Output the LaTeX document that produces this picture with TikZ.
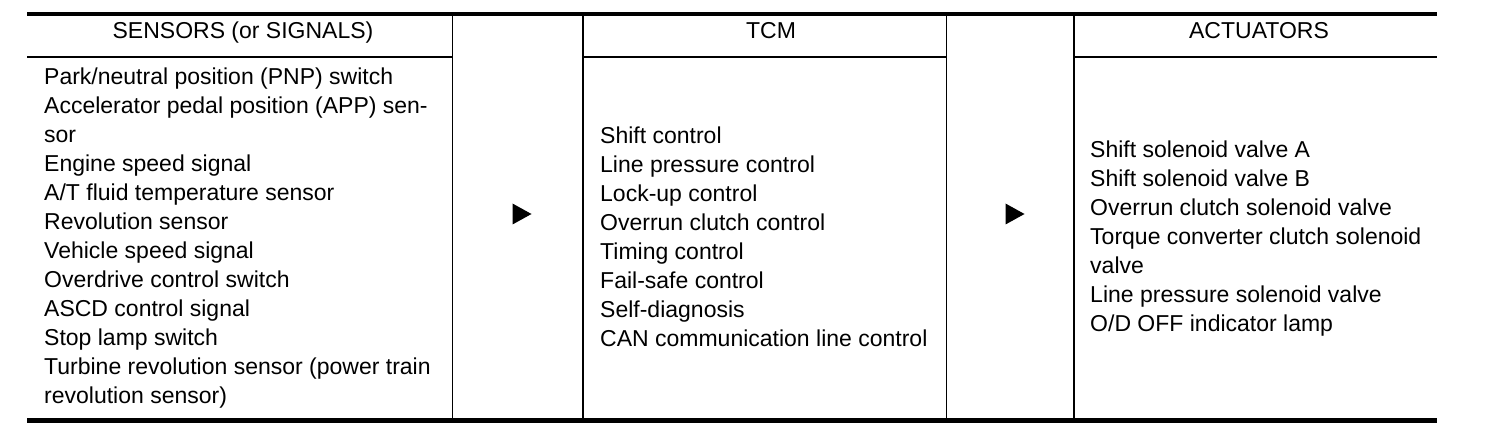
\documentclass[tikz,border=0pt]{standalone}
\usepackage{fontspec}
\setmainfont{Liberation Sans}
\usetikzlibrary{positioning}
\begin{document}
\begin{tikzpicture}[x=1pt,y=-1pt,
    cell/.style={anchor=base west,align=left,inner sep=0pt,font=\fontsize{23}{29}\selectfont},
    head/.style={anchor=base,inner sep=0pt,font=\fontsize{23}{29}\selectfont},
    marker/.style={fill=black}]
        \useasboundingbox (0,0) rectangle (1504,430);
        % righe orizzontali
        \draw [-,line width=4pt] (27,14) -- (1437,14);
        \draw [-,line width=5pt] (27,420) -- (1437,420);
        \draw [-,line width=2pt] (27,57) -- (452.5,57);\draw [-,line width=2pt] (583,57) -- (946.5,57);
        \draw [-,line width=2pt] (1074,57) -- (1437,57);
        % righe verticali
        \draw [-,line width=1.2pt] (452.5,14) -- (452.5,420);\draw [-,line width=2pt] (583,14) -- (583,420);
        \draw [-,line width=1.2pt] (946.5,14) -- (946.5,420);\draw [-,line width=2pt] (1074,14) -- (1074,420);
        % intestazioni
        \node [head] (hsens) at (243,38.5) {SENSORS (or SIGNALS)};
        \node [head] (htcm) at (771,38.5) {TCM};
        \node [head] (hact) at (1259,38.5) {ACTUATORS};
        % colonne (base = ultima riga)
        \node [cell] (sens) at (44,403) {Park/neutral position (PNP) switch\\Accelerator pedal position (APP) sen-\\sor\\Engine speed signal\\A/T fluid temperature sensor\\Revolution sensor\\Vehicle speed signal\\Overdrive control switch\\ASCD control signal\\Stop lamp switch\\Turbine revolution sensor (power train\\revolution sensor)};
        \node [cell] (tcm) at (600,346.5) {Shift control\\Line pressure control\\Lock-up control\\Overrun clutch control\\Timing control\\Fail-safe control\\Self-diagnosis\\CAN communication line control};
        \node [cell] (act) at (1090,331) {Shift solenoid valve A\\Shift solenoid valve B\\Overrun clutch solenoid valve\\Torque converter clutch solenoid\\valve\\Line pressure solenoid valve\\O/D OFF indicator lamp};
        % frecce
        \coordinate (arr1) at (522,214);\coordinate (arr2) at (1015,214);
        \fill [marker] (arr1) ++(-9.5,-10.5) -- ++(19,10.5) -- ++(-19,10.5) -- cycle;
        \fill [marker] (arr2) ++(-9.5,-10.5) -- ++(19,10.5) -- ++(-19,10.5) -- cycle;
    \end{tikzpicture}
\end{document}
